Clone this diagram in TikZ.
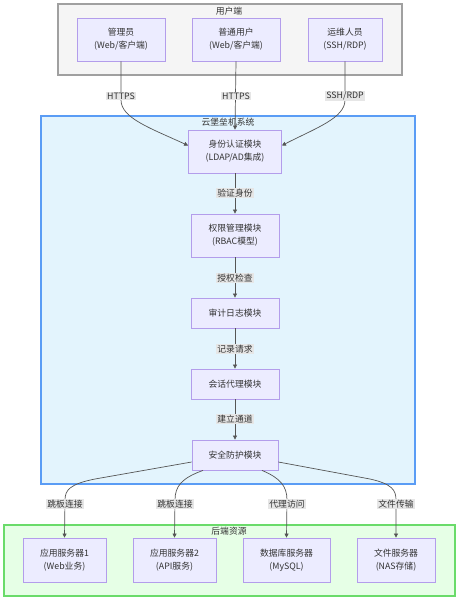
\documentclass[tikz,border=0pt]{standalone}
\usepackage{fontspec}
\setmainfont{Noto Sans CJK SC}
\usetikzlibrary{arrows.meta}
\definecolor{nodefill}{HTML}{ECECFF}
\definecolor{nodedraw}{HTML}{B39DEB}
\definecolor{userfill}{HTML}{F5F5F5}
\definecolor{userdraw}{HTML}{A0A0A0}
\definecolor{sysfill}{HTML}{E3F4FD}
\definecolor{sysdraw}{HTML}{5A9CF5}
\definecolor{backfill}{HTML}{E6FFE6}
\definecolor{backdraw}{HTML}{6ADB6A}
\definecolor{edgecol}{HTML}{555555}
\definecolor{lblfill}{HTML}{E6E6E6}
\definecolor{txt}{HTML}{333333}
\tikzset{
  modbox/.style={draw=nodedraw, fill=nodefill, line width=0.8pt, align=center,
    font=\fontsize{8.8}{13}\selectfont, text=txt, inner sep=0pt},
  grp/.style={line width=1.2pt},
  grptitle/.style={font=\fontsize{8.8}{10}\selectfont, text=txt, inner sep=0pt},
  conn/.style={draw=edgecol, line width=0.7pt, -{Triangle[length=4pt,width=4pt]}},
  lbl/.style={fill=lblfill, font=\fontsize{8.8}{10}\selectfont,
    text=txt, inner sep=1pt},
}
\begin{document}
\begin{tikzpicture}[x=1pt,y=-1pt]
\useasboundingbox (0,0) rectangle (459,600);
% groups
\draw[grp, draw=userdraw, fill=userfill] (58,4) rectangle (402,75);
\node[grptitle] (tuser) at (229,11) {用户端};
\draw[grp, draw=sysdraw, fill=sysfill] (41,116) rectangle (415,484);
\node[grptitle] (tsys) at (228,122) {云堡垒机系统};
\draw[grp, draw=backdraw, fill=backfill] (4,525) rectangle (455,596);
\node[grptitle] (tback) at (229,531) {后端资源};

% user nodes
\node[modbox, minimum width=88, minimum height=43] (admin) at (121,39.5) {管理员\\(Web/客户端)};
\node[modbox, minimum width=88, minimum height=43] (user) at (236,39.5) {普通用户\\(Web/客户端)};
\node[modbox, minimum width=74, minimum height=43] (ops) at (345,39.5) {运维人员\\(SSH/RDP)};

% system nodes
\node[modbox, minimum width=93, minimum height=43] (auth) at (235,151.5) {身份认证模块\\(LDAP/AD集成)};
\node[modbox, minimum width=88, minimum height=43] (perm) at (235,235.5) {权限管理模块\\(RBAC模型)};
\node[modbox, minimum width=88, minimum height=30] (audit) at (235,313) {审计日志模块};
\node[modbox, minimum width=88, minimum height=30] (sess) at (235,384) {会话代理模块};
\node[modbox, minimum width=86, minimum height=30] (safe) at (235,455) {安全防护模块};

% backend nodes
\node[modbox, minimum width=83, minimum height=44] (s1) at (64.5,560) {应用服务器1\\(Web业务)};
\node[modbox, minimum width=83, minimum height=44] (s2) at (174.5,560) {应用服务器2\\(API服务)};
\node[modbox, minimum width=87, minimum height=44] (db) at (286.5,560) {数据库服务器\\(MySQL)};
\node[modbox, minimum width=78, minimum height=44] (fs) at (396,560) {文件服务器\\(NAS存储)};

% top edges
\draw[conn] (admin.south) -- (121,100) .. controls (121,118) and (150,128) .. ([yshift=6pt]auth.west);
\draw[conn] (user.south) -- (auth.north);
\draw[conn] (ops.south) -- (345,100) .. controls (345,118) and (316,128) .. ([yshift=6pt]auth.east);
\node[lbl] (l1) at (121,96) {HTTPS};
\node[lbl] (l2) at (236,96) {HTTPS};
\node[lbl] (l3) at (345,96) {SSH/RDP};

% chain
\draw[conn] (auth) -- (perm);
\draw[conn] (perm) -- (audit);
\draw[conn] (audit) -- (sess);
\draw[conn] (sess) -- (safe);
\node[lbl] (l4) at (235,193) {验证身份};
\node[lbl] (l5) at (235,278) {授权检查};
\node[lbl] (l6) at (235,349) {记录请求};
\node[lbl] (l7) at (235,419) {建立通道};

% bottom edges
\draw[conn] ([yshift=-7pt]safe.west) -- (95,479) .. controls (70,484) and (65,490) .. (65,500) -- (s1.north);
\draw[conn] ([xshift=-32pt]safe.south) .. controls (182,478) and (175,486) .. (175,500) -- (s2.north);
\draw[conn] ([xshift=27pt]safe.south) .. controls (280,478) and (287,486) .. (287,500) -- (db.north);
\draw[conn] ([yshift=-7pt]safe.east) -- (370,479) .. controls (392,484) and (396,490) .. (396,500) -- (fs.north);
\node[lbl] (l8) at (65,504) {跳板连接};
\node[lbl] (l9) at (175,504) {跳板连接};
\node[lbl] (l10) at (287,504) {代理访问};
\node[lbl] (l11) at (396,504) {文件传输};
\end{tikzpicture}
\end{document}
